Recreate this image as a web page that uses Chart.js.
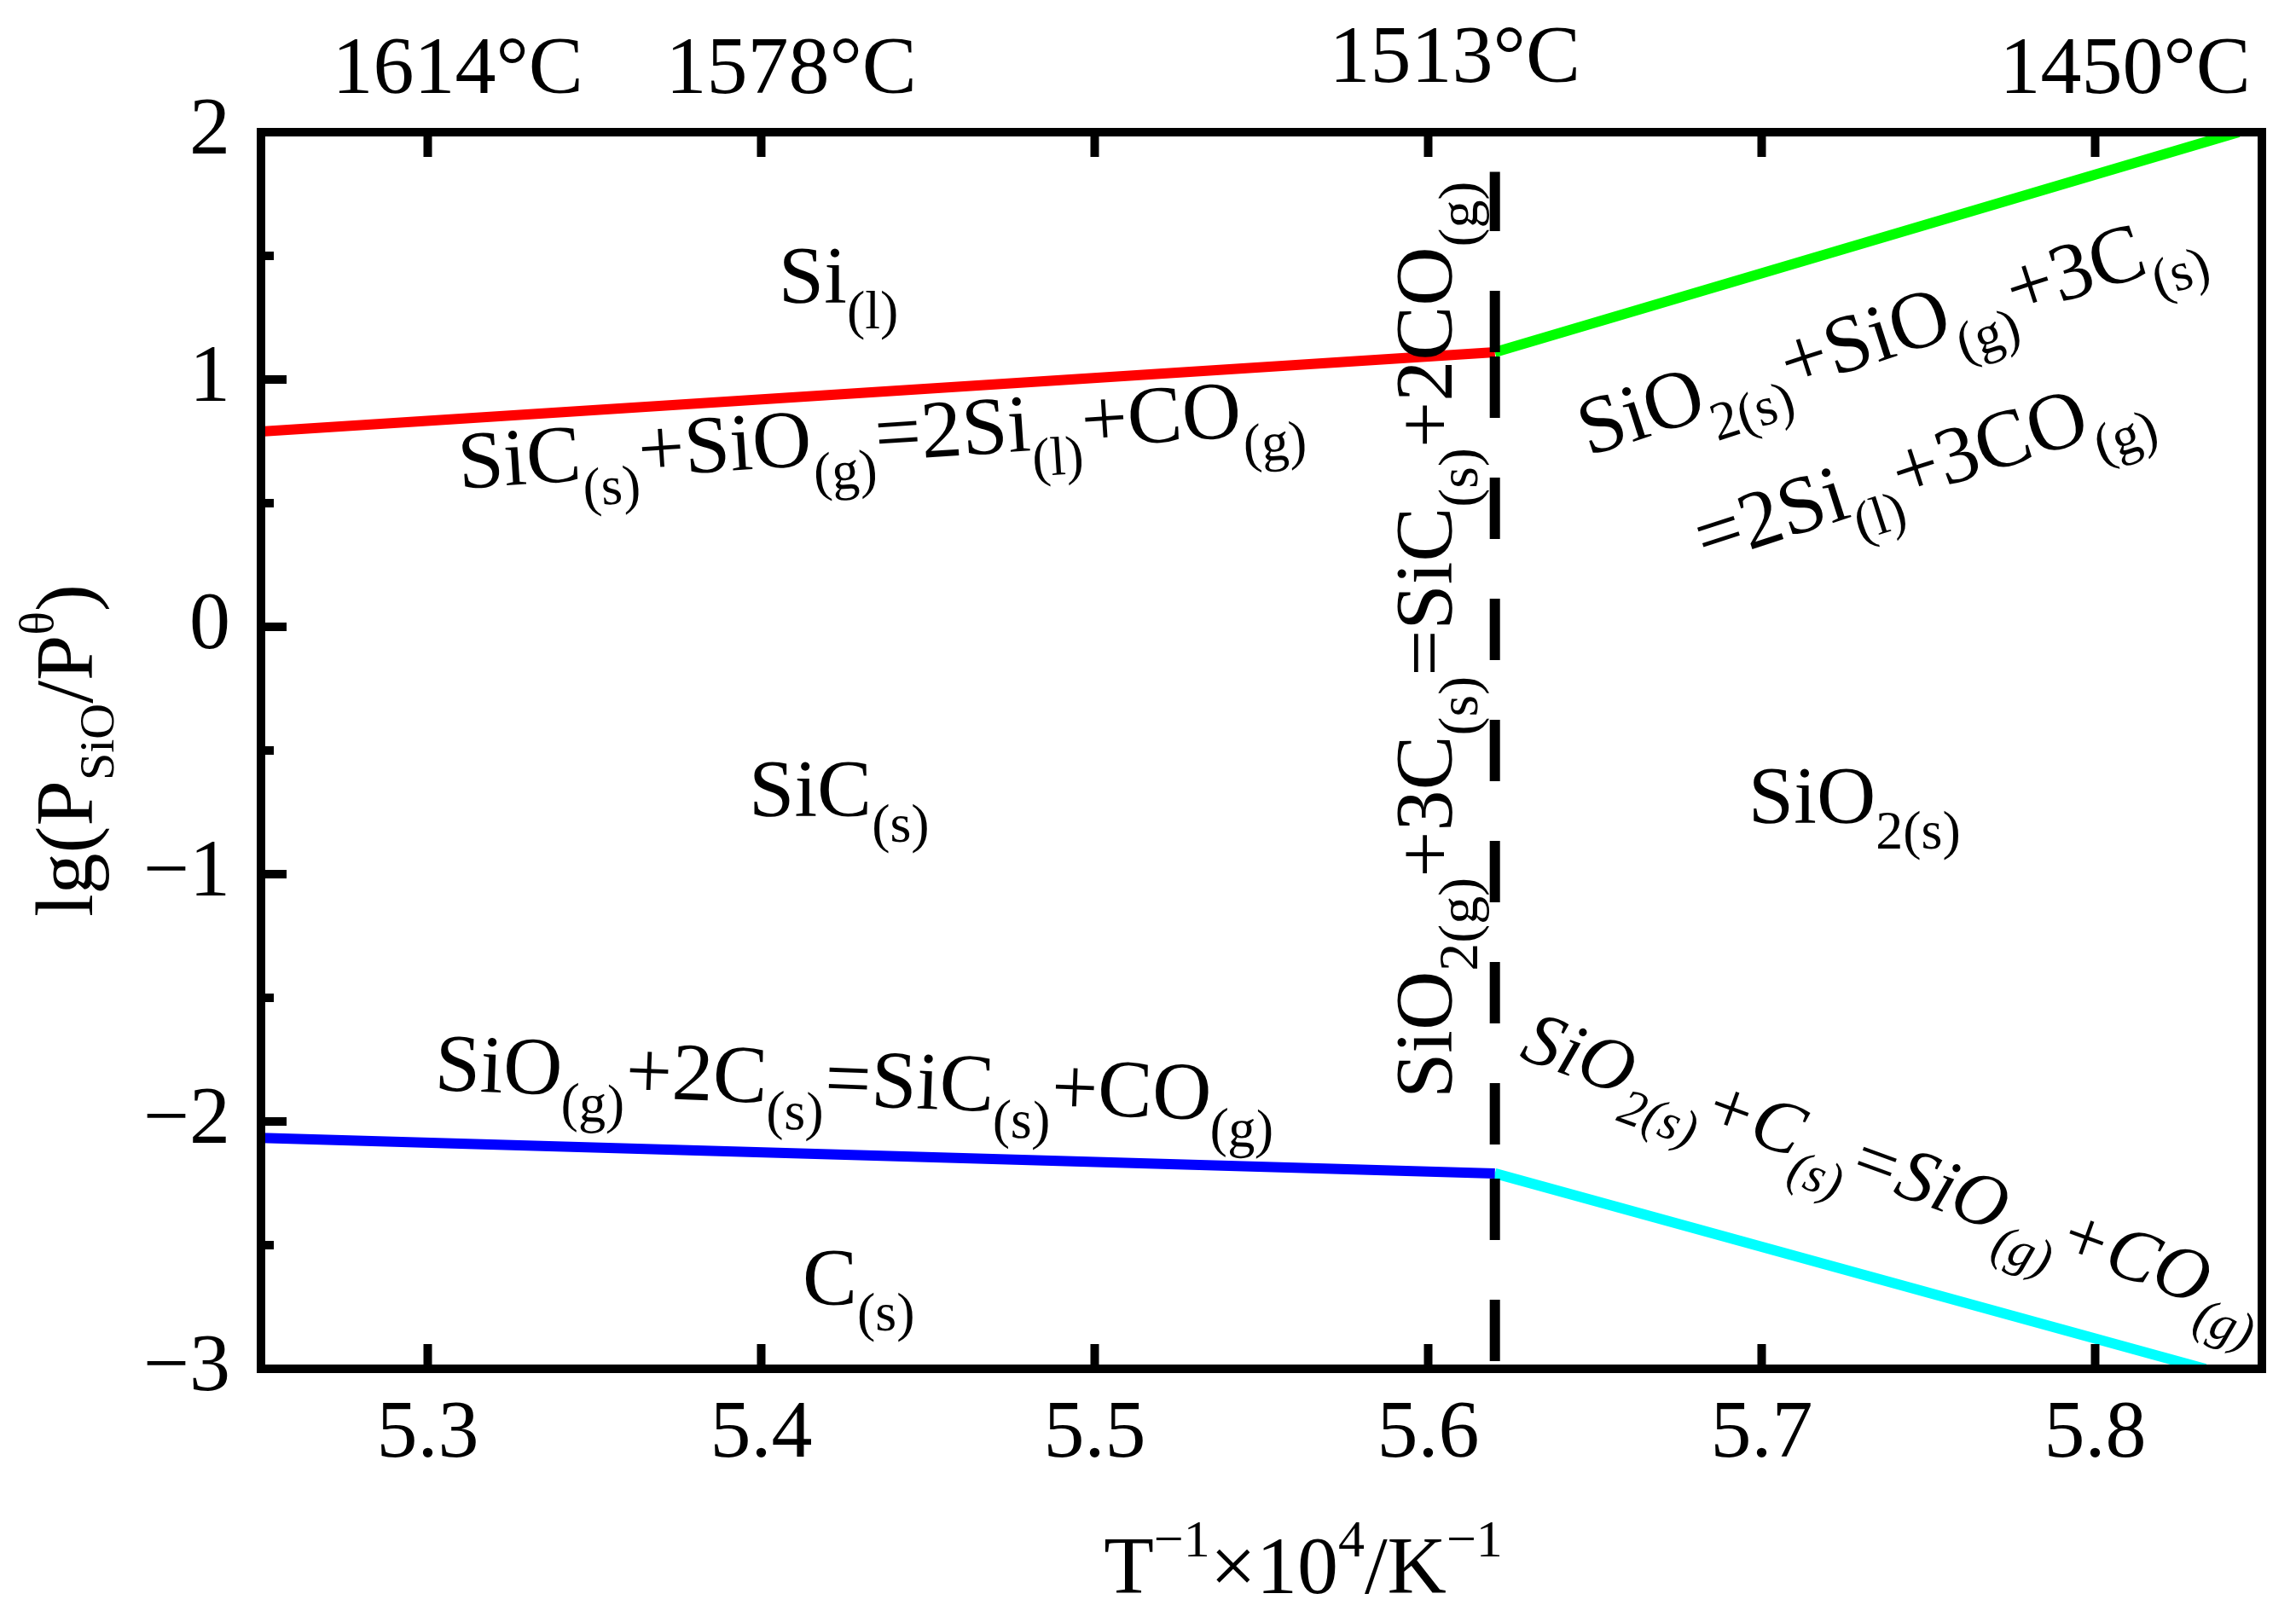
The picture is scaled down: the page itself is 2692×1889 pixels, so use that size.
<!DOCTYPE html>
<html>
<head>
<meta charset="utf-8">
<script src="https://cdn.jsdelivr.net/npm/chart.js@4.4.1/dist/chart.umd.min.js"></script>
<style>
  html, body { margin: 0; padding: 0; background: #fff; }
  canvas { display: block; }
</style>
</head>
<body>
<canvas id="phaseChart" width="2692" height="1889"></canvas>
<script>
// tick values
const xTicks = [5.3, 5.4, 5.5, 5.6, 5.7, 5.8];
const yTicks = [-3, -2, -1, 0, 1, 2];
const yMinorTicks = [-2.5, -1.5, -0.5, 0.5, 1.5];

// temperatures written over the top edge
const topTempLabels = ["1614°C", "1578°C", "1513°C", "1450°C"];
const topTempX = [5.309, 5.409, 5.608, 5.809];

// equilibrium lines
const redX = [5.25, 5.62];
const redY = [0.79, 1.11];
const greenX = [5.62, 5.843];
const greenY = [1.11, 2.0];
const blueX = [5.25, 5.62];
const blueY = [-2.066, -2.21];
const cyanX = [5.62, 5.833];
const cyanY = [-2.21, -3.0];
// vertical boundary, drawn piece by piece between the junctions
const dashX = [5.62, 5.62, 5.62, 5.62];
const dashY = [-3, -2.21, 1.11, 1.84];
const dashOffsets = [133, 108, 0];

// reaction / phase labels (_{} = subscript, ^{} = superscript)
const notes = [
    { text: "Si_{(l)}", x: 5.4052, y: 1.310, angle: 0 },
    { text: "SiC_{(s)}+SiO_{(g)}=2Si_{(l)}+CO_{(g)}", x: 5.3096, y: 0.559, angle: -3.8 },
    { text: "SiC_{(s)}", x: 5.3963, y: -0.766, angle: 0 },
    { text: "SiO_{(g)}+2C_{(s)}=SiC_{(s)}+CO_{(g)}", x: 5.3019, y: -1.872, angle: 2.2 },
    { text: "C_{(s)}", x: 5.4124, y: -2.741, angle: 0 },
    { text: "SiO_{2(s)}", x: 5.696, y: -0.793, angle: 0 },
    { text: "SiO_{2(g)}+3C_{(s)}=SiC_{(s)}+2CO_{(g)}", x: 5.607, y: -1.907, angle: -90, small: 66 },
    { text: "SiO_{2(s)}+SiO_{(g)}+3C_{(s)}", x: 5.648, y: 0.690, angle: -18 },
    { text: "=2Si_{(l)}+3CO_{(g)}", x: 5.683, y: 0.252, angle: -18 },
    { text: "SiO_{2(s)}+C_{(s)}=SiO_{(g)}+CO_{(g)}", x: 5.627, y: -1.741, angle: 20, italic: true, size: 88, small: 60 }
];

const FONT = "'Liberation Serif', 'Times New Roman', serif";

function toPoints(xs, ys) {
    return xs.map((x, i) => ({ x: x, y: ys[i] }));
}

function parseRich(str) {
    const parts = [];
    const re = /([_^])\{([^}]*)\}|([^_^]+)/g;
    let m;
    while ((m = re.exec(str))) {
        if (m[3]) parts.push({ t: m[3], k: 0 });
        else parts.push({ t: m[2], k: m[1] === "_" ? 1 : 2 });
    }
    return parts;
}

function fontFor(k, o) {
    const size = k === 0 ? o.size : o.small;
    return (o.italic ? "italic " : "") + size + "px " + FONT;
}

function richWidth(ctx, parts, o) {
    let w = 0;
    parts.forEach(p => { ctx.font = fontFor(p.k, o); w += ctx.measureText(p.t).width; });
    return w;
}

function drawRich(ctx, str, x, y, angle, o) {
    const parts = parseRich(str);
    ctx.save();
    ctx.translate(x, y);
    ctx.rotate(angle * Math.PI / 180);
    ctx.textAlign = "left";
    ctx.textBaseline = "alphabetic";
    ctx.fillStyle = "#000";
    let cx = o.center ? -richWidth(ctx, parts, o) / 2 : 0;
    parts.forEach(p => {
        ctx.font = fontFor(p.k, o);
        const dy = p.k === 1 ? o.subShift : p.k === 2 ? o.supShift : 0;
        ctx.fillText(p.t, cx, dy);
        cx += ctx.measureText(p.t).width;
    });
    ctx.restore();
}

const decorations = {
    id: "decorations",
    afterDraw(chart) {
        const { ctx, chartArea: a, scales: { x, y } } = chart;
        ctx.save();

        // inward ticks
        ctx.strokeStyle = "#000";
        ctx.lineWidth = 10;
        ctx.lineCap = "butt";
        ctx.beginPath();
        xTicks.forEach(v => {
            const px = x.getPixelForValue(v);
            ctx.moveTo(px, a.bottom); ctx.lineTo(px, a.bottom - 29);
            ctx.moveTo(px, a.top); ctx.lineTo(px, a.top + 29);
        });
        yTicks.forEach(v => {
            const py = y.getPixelForValue(v);
            ctx.moveTo(a.left, py); ctx.lineTo(a.left + 30, py);
        });
        yMinorTicks.forEach(v => {
            const py = y.getPixelForValue(v);
            ctx.moveTo(a.left, py); ctx.lineTo(a.left + 15, py);
        });
        ctx.stroke();

        // frame
        ctx.lineJoin = "miter";
        ctx.strokeRect(a.left, a.top, a.right - a.left, a.bottom - a.top);

        // temperatures on top
        ctx.fillStyle = "#000";
        ctx.font = "96px " + FONT;
        ctx.textAlign = "center";
        ctx.textBaseline = "alphabetic";
        topTempLabels.forEach((t, i) => {
            const lift = t === "1513°C" ? 13 : 0;
            ctx.fillText(t, x.getPixelForValue(topTempX[i]), a.top - 46 - lift);
        });

        // labels inside the plot
        notes.forEach(n => {
            drawRich(ctx, n.text, x.getPixelForValue(n.x), y.getPixelForValue(n.y), n.angle, {
                size: n.size || 96,
                small: n.small || 64,
                subShift: 30,
                supShift: -44,
                italic: !!n.italic
            });
        });

        // axis titles
        drawRich(ctx, "T^{−1}×10^{4}/K^{−1}", 1528, 1868, 0,
            { size: 96, small: 62, subShift: 30, supShift: -43, center: true });
        drawRich(ctx, "lg(P_{SiO}/P^{θ})", a.left - 198, (a.top + a.bottom) / 2, -90,
            { size: 96, small: 58, subShift: 25, supShift: -46, center: true });

        ctx.restore();
    }
};

const line = (xs, ys, color, extra) => Object.assign({
    data: toPoints(xs, ys),
    showLine: true,
    borderColor: color,
    backgroundColor: color,
    borderWidth: 12,
    pointRadius: 0,
    tension: 0
}, extra || {});

// one dashed dataset per piece of the vertical boundary
const dashSets = dashOffsets.map((off, i) =>
    line(dashX.slice(i, i + 2), dashY.slice(i, i + 2), "#000000",
        { borderDash: [72, 70], borderDashOffset: off }));

new Chart(document.getElementById("phaseChart"), {
    type: "scatter",
    data: {
        datasets: [
            ...dashSets,
            line(redX, redY, "#ff0000"),
            line(greenX, greenY, "#00ff00"),
            line(blueX, blueY, "#0000ff"),
            line(cyanX, cyanY, "#00ffff")
        ]
    },
    options: {
        responsive: false,
        devicePixelRatio: 1,
        animation: false,
        layout: {
            padding: { top: 155, right: 40, bottom: 0, left: 0 }
        },
        plugins: {
            legend: { display: false },
            tooltip: { enabled: false }
        },
        scales: {
            x: {
                type: "linear",
                min: 5.25,
                max: 5.85,
                grid: { display: false, drawTicks: false },
                border: { display: false },
                afterBuildTicks(scale) {
                    scale.ticks = xTicks.map(v => ({ value: v }));
                },
                afterFit(scale) {
                    scale.height = 284;
                },
                ticks: {
                    autoSkip: false,
                    maxRotation: 0,
                    padding: 20,
                    color: "#000",
                    font: { family: FONT, size: 96 },
                    callback: v => v.toFixed(1)
                }
            },
            y: {
                type: "linear",
                min: -3,
                max: 2,
                grid: { display: false, drawTicks: false },
                border: { display: false },
                afterBuildTicks(scale) {
                    scale.ticks = yTicks.map(v => ({ value: v }));
                },
                afterFit(scale) {
                    scale.width = 306;
                },
                ticks: {
                    padding: 36,
                    color: "#000",
                    font: { family: FONT, size: 96 },
                    callback: v => (v < 0 ? "−" + Math.abs(v) : String(v))
                }
            }
        }
    },
    plugins: [decorations]
});
</script>
</body>
</html>
